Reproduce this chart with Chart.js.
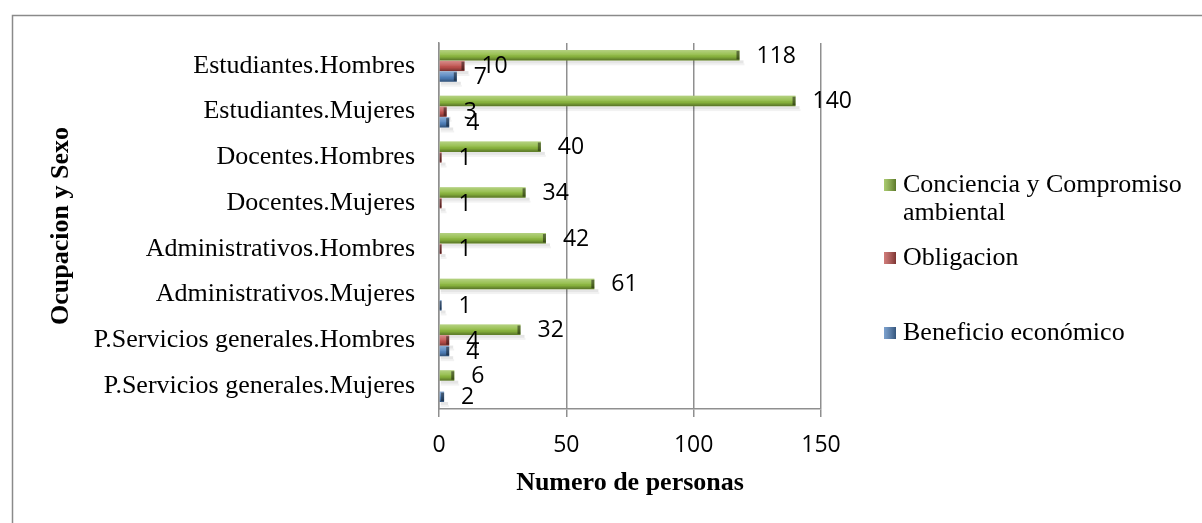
<!DOCTYPE html>
<html><head><meta charset="utf-8">
<script src="https://cdn.jsdelivr.net/npm/chart.js@4/dist/chart.umd.min.js"></script>
<style>html,body{margin:0;padding:0;background:#fff;overflow:hidden}</style>
</head><body>
<canvas id="c" width="1202" height="523" style="width:1202px;height:523px;display:block"></canvas>
<script>
const categories = [
  'Estudiantes.Hombres','Estudiantes.Mujeres','Docentes.Hombres','Docentes.Mujeres',
  'Administrativos.Hombres','Administrativos.Mujeres',
  'P.Servicios generales.Hombres','P.Servicios generales.Mujeres'
];
const seriesNames = ['Conciencia y Compromiso ambiental','Obligacion','Beneficio económico'];
const conciencia = [118, 140, 40, 34, 42, 61, 32, 6];
const obligacion = [10, 3, 1, 1, 1, null, 4, null];
const beneficio  = [7, 4, null, null, null, 1, 4, 2];
const xTicks = [0, 50, 100, 150];
const xTitle = 'Numero de personas';
const yTitle = 'Ocupacion y Sexo';

const fillColors = ['#8DB93F', '#C0504D', '#4F81BD'];
const edgeColors = ['#5E7A2A', '#7E2725', '#2C4F7C'];
const serif = "'Liberation Serif', 'Times New Roman', serif";
const sans = "'Open Sans', sans-serif";

const frame = {
  id: 'frame',
  beforeDraw(chart) {
    const ctx = chart.ctx;
    ctx.save();
    ctx.fillStyle = '#fff';
    ctx.fillRect(0, 0, chart.width, chart.height);
    ctx.strokeStyle = '#8a8a8a';
    ctx.lineWidth = 1.5;
    ctx.beginPath();
    ctx.moveTo(12.5, chart.height);
    ctx.lineTo(12.5, 15.5);
    ctx.lineTo(chart.width, 15.5);
    ctx.stroke();
    ctx.restore();
  }
};

const bevel = {
  id: 'bevel',
  beforeDatasetsDraw(chart) {
    const ctx = chart.ctx;
    ctx.save();
    chart.data.datasets.forEach((ds, di) => {
      chart.getDatasetMeta(di).data.forEach((el, i) => {
        if (ds.data[i] === null) return;
        const top = el.y - el.height / 2, h = el.height;
        const l = Math.min(el.base, el.x), w = Math.abs(el.x - el.base);
        ctx.fillStyle = 'rgba(0,0,0,0.10)';
        ctx.fillRect(l + 1, top + h, w + 3, 3);
        ctx.fillStyle = 'rgba(0,0,0,0.05)';
        ctx.fillRect(l + 1, top + h + 3, w + 4, 2);
      });
    });
    ctx.restore();
  },
  afterDatasetsDraw(chart) {
    const ctx = chart.ctx;
    ctx.save();
    chart.data.datasets.forEach((ds, di) => {
      chart.getDatasetMeta(di).data.forEach((el, i) => {
        if (ds.data[i] === null) return;
        const top = el.y - el.height / 2, h = el.height;
        const l = Math.min(el.base, el.x), w = Math.abs(el.x - el.base);
        const g = ctx.createLinearGradient(0, top, 0, top + h);
        g.addColorStop(0, 'rgba(255,255,255,0.35)');
        g.addColorStop(0.45, 'rgba(255,255,255,0.10)');
        g.addColorStop(0.65, 'rgba(0,0,0,0.05)');
        g.addColorStop(1, 'rgba(0,0,0,0.38)');
        ctx.fillStyle = g;
        ctx.fillRect(l, top, w, h);
        const cap = Math.min(3, w);
        ctx.fillStyle = 'rgba(0,0,0,0.45)';
        ctx.fillRect(el.x - cap, top + 1, cap, h - 2);
      });
    });
    ctx.restore();
  }
};

const valueLabels = {
  id: 'valueLabels',
  afterDatasetsDraw(chart) {
    const ctx = chart.ctx;
    ctx.save();
    ctx.font = '23px ' + sans;
    ctx.fillStyle = '#000';
    ctx.textAlign = 'left';
    ctx.textBaseline = 'middle';
    chart.data.datasets.forEach((ds, di) => {
      const meta = chart.getDatasetMeta(di);
      meta.data.forEach((el, i) => {
        const v = ds.data[i];
        if (v === null || v === undefined) return;
        ctx.fillText(String(v), el.x + 17, el.y + 1);
      });
    });
    ctx.restore();
  }
};

const sideLegend = {
  id: 'sideLegend',
  afterDraw(chart) {
    const ctx = chart.ctx;
    const items = [
      { lines: ['Conciencia y Compromiso', 'ambiental'], y: 185 },
      { lines: [seriesNames[1]], y: 258 },
      { lines: [seriesNames[2]], y: 333 }
    ];
    ctx.save();
    ctx.font = '26px ' + serif;
    ctx.textBaseline = 'middle';
    ctx.textAlign = 'left';
    items.forEach((it, k) => {
      ctx.fillStyle = fillColors[k];
      ctx.fillRect(884, it.y - 6, 12, 12);
      const g = ctx.createLinearGradient(884, 0, 896, 0);
      g.addColorStop(0, 'rgba(255,255,255,0.25)');
      g.addColorStop(1, 'rgba(0,0,0,0.35)');
      ctx.fillStyle = g;
      ctx.fillRect(884, it.y - 6, 12, 12);
      ctx.fillStyle = '#000';
      it.lines.forEach((ln, j) => ctx.fillText(ln, 903, it.y + j * 28));
    });
    ctx.restore();
  }
};

const datasets = [conciencia, obligacion, beneficio].map((arr, k) => ({
  label: seriesNames[k],
  data: arr,
  backgroundColor: fillColors[k],
  borderColor: edgeColors[k],
  borderWidth: 0,
  categoryPercentage: 0.7,
  barPercentage: 0.97
}));

new Chart(document.getElementById('c'), {
  type: 'bar',
  data: { labels: categories, datasets },
  options: {
    indexAxis: 'y',
    responsive: false,
    animation: false,
    layout: { padding: { left: 42, top: 43, right: 381, bottom: 20 } },
    plugins: { legend: { display: false }, tooltip: { enabled: false } },
    scales: {
      x: {
        min: 0, max: 150,
        afterBuildTicks(scale) { scale.ticks = xTicks.map(v => ({ value: v })); },
        afterFit(scale) { scale.height = 94; },
        ticks: { color: '#000', font: { family: sans, size: 23 }, padding: 15, maxRotation: 0 },
        grid: { color: '#8f8f8f', lineWidth: 1.5, tickLength: 8, drawTicks: true },
        border: { color: '#8f8f8f', width: 1.5 },
        title: { display: true, text: xTitle, color: '#000', font: { family: serif, size: 26, weight: 'bold' }, padding: { top: 4, bottom: 4 } }
      },
      y: {
        afterFit(scale) { scale.width = 397; },
        ticks: { color: '#000', font: { family: serif, size: 26 }, padding: 24 },
        grid: { display: false, drawTicks: false },
        border: { display: true, color: '#8f8f8f', width: 1.5 },
        title: { display: true, text: yTitle, color: '#000', font: { family: serif, size: 26, weight: 'bold' }, padding: { top: 4, bottom: 4 } }
      }
    }
  },
  plugins: [frame, bevel, valueLabels, sideLegend]
});
</script>
</body></html>
